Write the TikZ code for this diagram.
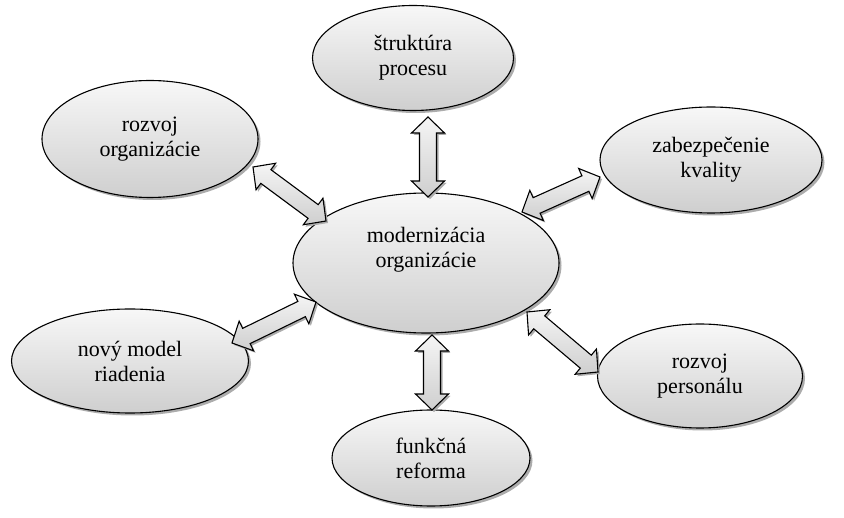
\documentclass[tikz,border=0pt]{standalone}
\usepackage{fontspec}
\setmainfont{Liberation Serif}
\usetikzlibrary{shapes.geometric,shadows,calc}

% sizes of the double block arrows
\newcommand{\hdlen}{16pt}
\newcommand{\hdhalf}{16.5pt}
\newcommand{\shhalf}{8.5pt}

% double-headed block arrow between two named points
\newcommand{\blockarrow}[2]{%
  \coordinate (#1-#2-a) at ($(#1)!\hdlen!(#2)$);
  \coordinate (#1-#2-b) at ($(#2)!\hdlen!(#1)$);
  \path[arrowbody] (#1)
    -- ($(#1-#2-a)!\hdhalf!90:(#2)$)
    -- ($(#1-#2-a)!\shhalf!90:(#2)$)
    -- ($(#1-#2-b)!\shhalf!-90:(#1)$)
    -- ($(#1-#2-b)!\hdhalf!-90:(#1)$)
    -- (#2)
    -- ($(#1-#2-b)!\hdhalf!90:(#1)$)
    -- ($(#1-#2-b)!\shhalf!90:(#1)$)
    -- ($(#1-#2-a)!\shhalf!-90:(#2)$)
    -- ($(#1-#2-a)!\hdhalf!-90:(#2)$)
    -- cycle;}

\begin{document}
\begin{tikzpicture}[x=1pt,y=-1pt,
  txt/.style={align=center, font=\fontsize{22}{25}\selectfont},
  ell/.style={ellipse, draw=black, line width=1.1pt, inner sep=0pt,
    top color=gray!6, bottom color=gray!38,
    drop shadow={shadow xshift=2.5pt, shadow yshift=-2.5pt, fill=gray!65, opacity=1},
    txt},
  arrowbody/.style={draw=black, line width=1.1pt, line join=miter,
    top color=gray!8, bottom color=gray!38,
    drop shadow={shadow xshift=2pt, shadow yshift=-2pt, fill=gray!65, opacity=1}}]
\useasboundingbox (0,0) rectangle (844,518);

% centre
\node[ell, minimum width=266pt, minimum height=140pt] (c) at (426,263) {};
\node[txt] (ctext) at (426,250) {modernizácia\\organizácie};

% surrounding topics
\node[ell, minimum width=201pt, minimum height=105pt] (proc) at (413,58) {štruktúra\\procesu};
\node[ell, minimum width=216pt, minimum height=117pt] (org) at (150,139) {rozvoj\\organizácie};
\node[ell, minimum width=222pt, minimum height=106pt] (qual) at (711,160) {zabezpečenie\\kvality};
\node[ell, minimum width=237pt, minimum height=104pt] (model) at (130,361) {nový model\\riadenia};
\node[ell, minimum width=205pt, minimum height=104pt] (pers) at (700,376) {rozvoj\\personálu};
\node[ell, minimum width=198pt, minimum height=96pt] (ref) at (431,458) {funkčná\\reforma};

% arrow end points on the ellipse borders
\coordinate (pA) at (428,117);  \coordinate (cA) at (428,197);
\coordinate (cB) at (432,335);  \coordinate (rB) at (432,410);
\coordinate (oC) at (253,167);  \coordinate (cC) at (326,221);
\coordinate (cD) at (522,212);  \coordinate (qD) at (600,177);
\coordinate (mE) at (232,343);  \coordinate (cE) at (316,302);
\coordinate (cF) at (527,312);  \coordinate (pF) at (598,372);

\blockarrow{pA}{cA}
\blockarrow{cB}{rB}
\blockarrow{oC}{cC}
\blockarrow{cD}{qD}
\blockarrow{mE}{cE}
\blockarrow{cF}{pF}
\end{tikzpicture}
\end{document}
